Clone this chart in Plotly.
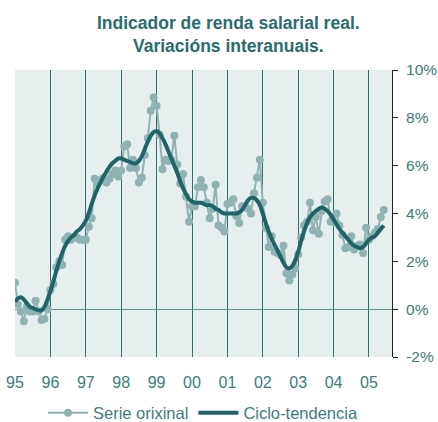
import plotly.graph_objects as go

start_year = 1995
orixinal = [1.1, 0.2, -0.1, -0.5, 0.1, -0.1, -0.1, 0.35, -0.1, -0.45, -0.4, 0.0,
            0.8, 1.05, 1.75, 2.0, 1.85, 2.9, 3.05, 2.9, 3.0, 3.0, 2.9, 2.9,
            2.9, 3.45, 3.8, 5.45, 5.25, 5.4, 5.5, 5.3, 5.45, 5.65, 5.8, 5.55,
            5.8, 6.8, 6.9, 5.9, 6.25, 5.9, 5.3, 5.5, 6.45, 7.15, 8.3, 8.85,
            8.5, 7.3, 5.85, 6.25, 6.2, 6.25, 7.25, 6.05, 5.25, 5.65, 4.7, 3.65,
            4.3, 4.3, 5.1, 5.4, 5.1, 4.45, 3.8, 4.2, 5.2, 3.5, 3.4, 3.25,
            4.4, 4.45, 4.6, 3.9, 3.6, 4.3, 4.3, 4.2, 4.0, 4.85, 5.5, 6.25,
            4.45, 3.4, 2.6, 3.05, 2.4, 2.35, 2.25, 2.65, 1.5, 1.2, 1.45, 1.7,
            2.3, 3.0, 3.5, 3.65, 4.45, 3.3, 3.85, 3.15, 4.1, 4.5, 4.6, 3.65,
            3.65, 4.0, 3.5, 3.1, 2.55, 2.6, 3.05, 2.5, 2.65, 2.7, 2.35, 3.4,
            2.9, 3.05, 3.2, 3.35, 3.85, 4.15]
tendencia = [0.3, 0.45, 0.5, 0.4, 0.25, 0.1, 0.05, 0.0, -0.05, -0.05, 0.1, 0.4,
             0.75, 1.15, 1.6, 2.0, 2.35, 2.65, 2.85, 3.0, 3.1, 3.25, 3.35, 3.5,
             3.7, 4.0, 4.4, 4.75, 5.05, 5.3, 5.55, 5.75, 5.95, 6.1, 6.2, 6.3,
             6.3, 6.25, 6.2, 6.15, 6.1, 6.1, 6.2, 6.4, 6.7, 7.0, 7.25, 7.4,
             7.45, 7.35, 7.15, 6.9, 6.6, 6.3, 6.0, 5.7, 5.35, 5.05, 4.8, 4.6,
             4.5, 4.45, 4.45, 4.45, 4.4, 4.35, 4.35, 4.3, 4.2, 4.15, 4.05, 4.0,
             4.0, 4.0, 4.0, 4.0, 4.05, 4.15, 4.35, 4.55, 4.65, 4.65, 4.55, 4.35,
             4.0, 3.6, 3.25, 2.95, 2.7, 2.45, 2.2, 1.95, 1.75, 1.7, 1.8, 2.05,
             2.4, 2.85, 3.25, 3.6, 3.85, 4.0, 4.1, 4.2, 4.25, 4.2, 4.1, 3.95,
             3.75, 3.55, 3.35, 3.2, 3.05, 2.9, 2.75, 2.65, 2.6, 2.55, 2.6, 2.75,
             2.9, 3.0, 3.05, 3.2, 3.35, 3.5]
year_ticks = [1995, 1996, 1997, 1998, 1999, 2000, 2001, 2002, 2003, 2004, 2005]
year_labels = ["95", "96", "97", "98", "99", "00", "01", "02", "03", "04", "05"]
y_ticks = [-2, 0, 2, 4, 6, 8, 10]
y_labels = ["-2%", "0%", "2%", "4%", "6%", "8%", "10%"]

months = [start_year + i / 12 for i in range(len(orixinal))]

TXT = "#3b7d7b"
TITLE = "#2b6d6b"
LIGHT = "#8fb3b3"
DARK = "#1f6567"
FONT = "Liberation Sans, Arial, sans-serif"

W, H = 438, 422
ML, MR, MT, MB = 15, 46, 70, 65
PW, PH = W - ML - MR, H - MT - MB

fig = go.Figure()
fig.add_trace(go.Scatter(x=months, y=orixinal, mode="lines+markers", name="Serie orixinal",
                         line=dict(color=LIGHT, width=2), marker=dict(color=LIGHT, size=8)))
fig.add_trace(go.Scatter(x=months, y=tendencia, mode="lines", name="Ciclo-tendencia",
                         line=dict(color=DARK, width=4, shape="spline")))

fig.update_layout(
    width=W, height=H,
    margin=dict(l=ML, r=MR, t=MT, b=MB, autoexpand=False),
    paper_bgcolor="white", plot_bgcolor="#e7efee",
    font=dict(family=FONT, color=TXT, size=16),
    showlegend=True,
    hovermode=False,
    legend=dict(orientation="h", x=203 / W, xref="container", xanchor="center",
                y=(H - 413) / H, yref="container", yanchor="middle",
                font=dict(size=16.5, color=TXT), itemwidth=40, tracegroupgap=0,
                bgcolor="rgba(0,0,0,0)"),
)
fig.update_xaxes(range=[1995, 2005.65], tickvals=year_ticks, ticktext=year_labels,
                 showgrid=True, gridcolor="#2f6f6f", gridwidth=1, automargin=False,
                 ticks="", ticklabelstandoff=14, zeroline=False, showline=False,
                 ticklabeloverflow="allow",
                 tickfont=dict(size=16, color=TXT))
fig.update_yaxes(range=[-2, 10], tickvals=y_ticks, ticktext=y_labels, side="right",
                 showgrid=False, zeroline=True, zerolinecolor="#5f9594", zerolinewidth=1,
                 ticks="outside", ticklen=5, tickcolor="#222222", automargin=False,
                 showline=True, linecolor="#222222", linewidth=1,
                 ticklabeloverflow="allow",
                 ticklabelstandoff=5, tickfont=dict(size=15.5, color=TXT))

titles = [("<b>Indicador de renda salarial real.</b>", 23),
          ("<b>Variacións interanuais.</b>", 46)]
for txt, py in titles:
    fig.add_annotation(text=txt, xref="paper", yref="paper",
                       x=(229 - ML) / PW, xanchor="center",
                       y=(H - MB - py) / PH, yanchor="middle",
                       showarrow=False, font=dict(size=17.5, color=TITLE, family=FONT))

fig.write_html("out.html", config={"displayModeBar": False},
               post_script="document.body.style.margin='0';document.body.style.overflow='hidden';")
